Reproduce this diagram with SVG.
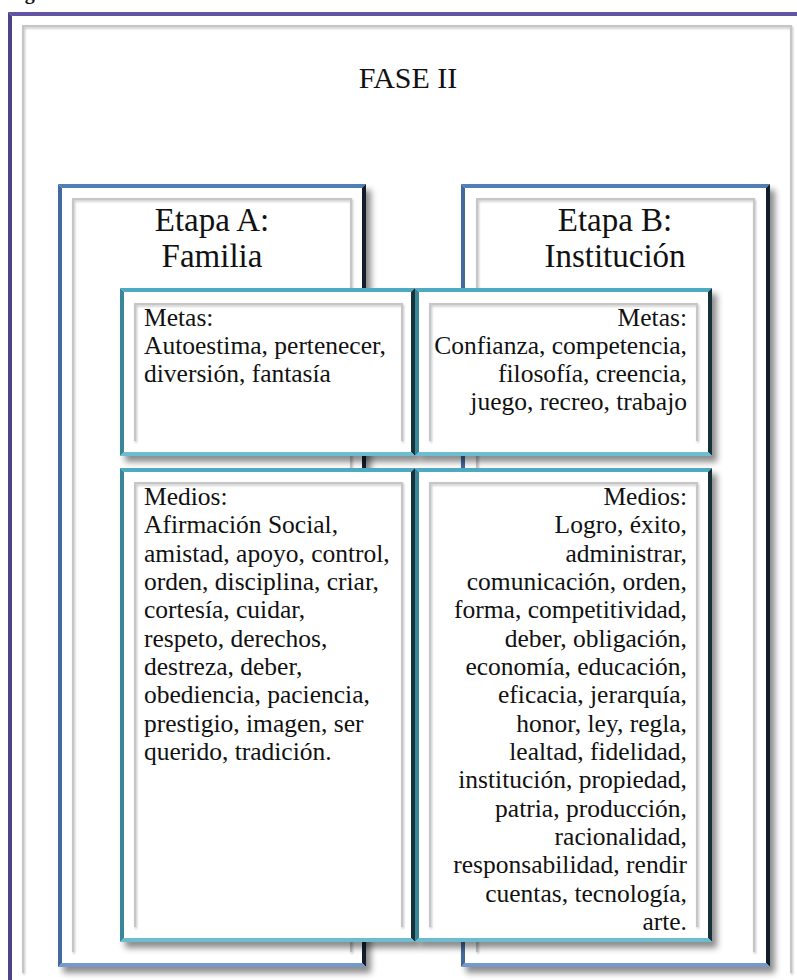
<svg xmlns="http://www.w3.org/2000/svg" width="797" height="980" viewBox="0 0 797 980">
<style>
  .txt{font-family:"Liberation Serif","Times New Roman",serif;fill:#111;}
  .title{font-size:30px;}
  .etapa{font-size:33px;}
  .body{font-size:25.5px;}
  .bt{fill:#4f7eb9;} .bl{fill:#44699c;} .br{fill:#121d2b;} .bb{fill:#7599cd;}
  .tt{fill:#4eaac2;} .tl{fill:#3a8699;} .tr{fill:#15323c;} .tb{fill:#6cbdd0;}
  .pt{fill:#6253a3;} .pl{fill:#4e4185;}
  .base{fill:#ffffff;}
  .ig{fill:none;stroke:#c6c6c6;stroke-width:2;}
</style>
<defs>
  <filter id="sh" x="-10%" y="-10%" width="125%" height="125%">
    <feDropShadow dx="5" dy="6" stdDeviation="3" flood-color="#000" flood-opacity="0.45"/>
  </filter>
  <filter id="sh2" x="-5%" y="-5%" width="110%" height="110%">
    <feDropShadow dx="1" dy="1.5" stdDeviation="1" flood-color="#000" flood-opacity="0.25"/>
  </filter>
</defs>
<rect x="0" y="0" width="797" height="980" fill="#ffffff"/>

<g id="caption">
  <text class="txt" x="7" y="-1.5" font-size="20" font-weight="bold">Figura</text>
</g>

<g id="outer-frame">
  <polygon class="pt" points="8,12 797,12 797,16 12,16"/>
  <polygon class="pl" points="8,12 12,16 12,980 8,980"/>
  <path d="M23,973 L23,26 L791,26 L791,973" class="ig" filter="url(#sh2)"/>
</g>

<g id="fase-title">
  <text class="txt title" x="408" y="88" text-anchor="middle">FASE II</text>
</g>

<g id="etapa-a">
  <rect class="base" x="58" y="184" width="308" height="783" filter="url(#sh)"/>
  <polygon class="bt" points="58,184 366,184 362,188 62,188"/>
  <polygon class="br" points="366,184 366,967 362,963 362,188"/>
  <polygon class="bb" points="58,967 366,967 362,963 62,963"/>
  <polygon class="bl" points="58,184 62,188 62,963 58,967"/>
  <path d="M73,952 L73,199 L351,199 L351,952" class="ig" filter="url(#sh2)"/>
  <text class="txt etapa" text-anchor="middle"><tspan x="212" y="231">Etapa A:</tspan><tspan x="212" y="267">Familia</tspan></text>
</g>

<g id="etapa-b">
  <rect class="base" x="461" y="184" width="309" height="783" filter="url(#sh)"/>
  <polygon class="bt" points="461,184 770,184 766,188 465,188"/>
  <polygon class="br" points="770,184 770,967 766,963 766,188"/>
  <polygon class="bb" points="461,967 770,967 766,963 465,963"/>
  <polygon class="bl" points="461,184 465,188 465,963 461,967"/>
  <path d="M477,952 L477,199 L754,199 L754,952" class="ig" filter="url(#sh2)"/>
  <text class="txt etapa" text-anchor="middle"><tspan x="615" y="231">Etapa B:</tspan><tspan x="615" y="267">Institución</tspan></text>
</g>

<g id="metas-a">
  <rect class="base" x="120" y="288" width="295" height="168" filter="url(#sh)"/>
  <polygon class="tt" points="120,288 415,288 411,292 124,292"/>
  <polygon class="tr" points="415,288 415,456 411,452 411,292"/>
  <polygon class="tb" points="120,456 415,456 411,452 124,452"/>
  <polygon class="tl" points="120,288 124,292 124,452 120,456"/>
  <path d="M135,441 L135,304 L402,304 L402,441" class="ig" filter="url(#sh2)"/>
  <text class="txt body"><tspan x="144" y="326">Metas:</tspan><tspan x="144" y="354">Autoestima, pertenecer,</tspan><tspan x="144" y="382">diversión, fantasía</tspan></text>
</g>

<g id="metas-b">
  <rect class="base" x="415" y="288" width="297" height="168" filter="url(#sh)"/>
  <polygon class="tt" points="415,288 712,288 708,292 419,292"/>
  <polygon class="tr" points="712,288 712,456 708,452 708,292"/>
  <polygon class="tb" points="415,456 712,456 708,452 419,452"/>
  <polygon class="tl" points="415,288 419,292 419,452 415,456"/>
  <path d="M430,441 L430,304 L697,304 L697,441" class="ig" filter="url(#sh2)"/>
  <text class="txt body" text-anchor="end"><tspan x="687" y="326">Metas:</tspan><tspan x="687" y="354">Confianza, competencia,</tspan><tspan x="687" y="382">filosofía, creencia,</tspan><tspan x="687" y="410">juego, recreo, trabajo</tspan></text>
</g>

<g id="medios-a">
  <rect class="base" x="120" y="468" width="295" height="474" filter="url(#sh)"/>
  <polygon class="tt" points="120,468 415,468 411,472 124,472"/>
  <polygon class="tr" points="415,468 415,942 411,938 411,472"/>
  <polygon class="tb" points="120,942 415,942 411,938 124,938"/>
  <polygon class="tl" points="120,468 124,472 124,938 120,942"/>
  <path d="M135,927 L135,483 L402,483 L402,927" class="ig" filter="url(#sh2)"/>
  <text class="txt body"><tspan x="144" y="505">Medios:</tspan><tspan x="144" y="533.3">Afirmación Social,</tspan><tspan x="144" y="561.7">amistad, apoyo, control,</tspan><tspan x="144" y="590">orden, disciplina, criar,</tspan><tspan x="144" y="618.3">cortesía, cuidar,</tspan><tspan x="144" y="646.7">respeto, derechos,</tspan><tspan x="144" y="675">destreza, deber,</tspan><tspan x="144" y="703.3">obediencia, paciencia,</tspan><tspan x="144" y="731.7">prestigio, imagen, ser</tspan><tspan x="144" y="760">querido, tradición.</tspan></text>
</g>

<g id="medios-b">
  <rect class="base" x="415" y="468" width="297" height="474" filter="url(#sh)"/>
  <polygon class="tt" points="415,468 712,468 708,472 419,472"/>
  <polygon class="tr" points="712,468 712,942 708,938 708,472"/>
  <polygon class="tb" points="415,942 712,942 708,938 419,938"/>
  <polygon class="tl" points="415,468 419,472 419,938 415,942"/>
  <path d="M430,927 L430,483 L697,483 L697,927" class="ig" filter="url(#sh2)"/>
  <text class="txt body" text-anchor="end"><tspan x="687" y="505">Medios:</tspan><tspan x="687" y="533.3">Logro, éxito,</tspan><tspan x="687" y="561.7">administrar,</tspan><tspan x="687" y="590">comunicación, orden,</tspan><tspan x="687" y="618.3">forma, competitividad,</tspan><tspan x="687" y="646.7">deber, obligación,</tspan><tspan x="687" y="675">economía, educación,</tspan><tspan x="687" y="703.3">eficacia, jerarquía,</tspan><tspan x="687" y="731.7">honor, ley, regla,</tspan><tspan x="687" y="760">lealtad, fidelidad,</tspan><tspan x="687" y="788.3">institución, propiedad,</tspan><tspan x="687" y="816.7">patria, producción,</tspan><tspan x="687" y="845">racionalidad,</tspan><tspan x="687" y="873.3">responsabilidad, rendir</tspan><tspan x="687" y="901.7">cuentas, tecnología,</tspan><tspan x="687" y="930">arte.</tspan></text>
</g>

<g id="connectors"></g>
</svg>
